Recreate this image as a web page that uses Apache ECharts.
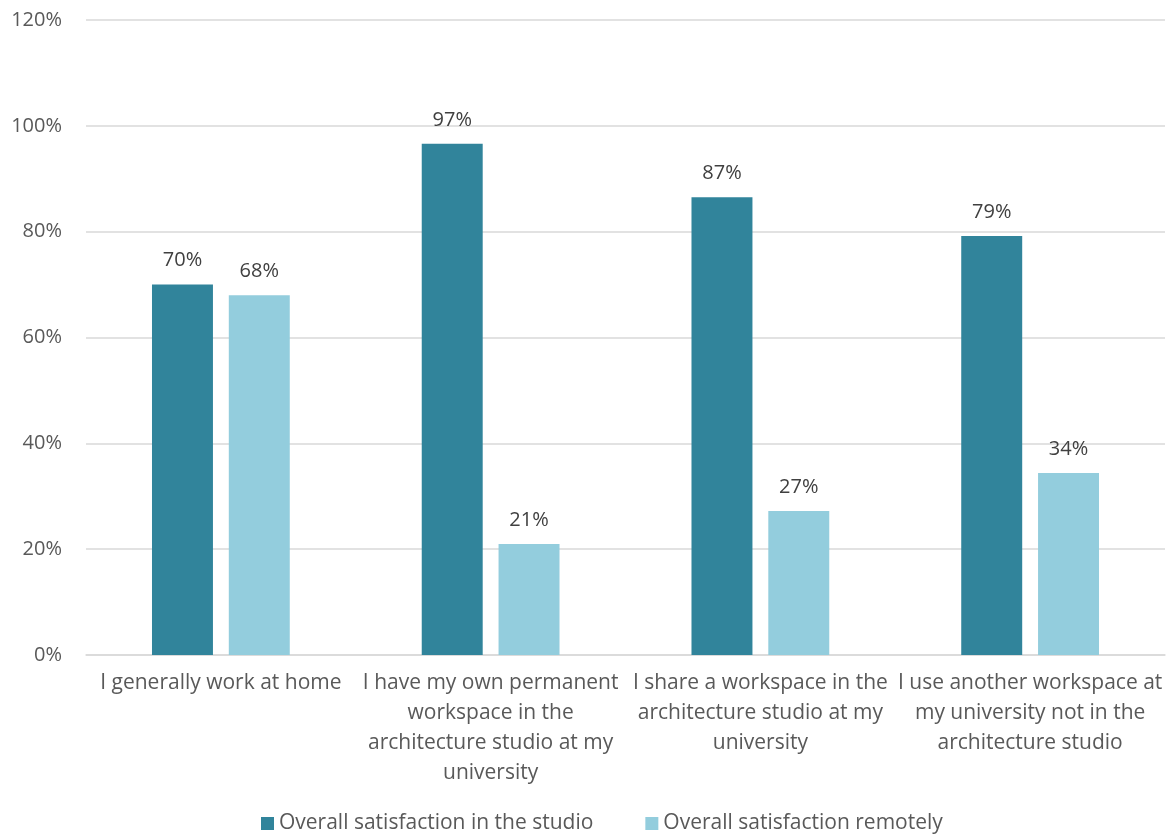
<!DOCTYPE html>
<html>
<head>
<meta charset="utf-8">
<script src="https://cdn.jsdelivr.net/npm/echarts@6/dist/echarts.min.js"></script>
<style>
  html, body { margin: 0; padding: 0; background: #fff; }
  #chart { width: 1171px; height: 839px; }
</style>
</head>
<body>
<div id="chart"></div>
<script>
// categories (x axis)
const categories = [
  "I generally work at home",
  "I have my own permanent\nworkspace in the\narchitecture studio at my\nuniversity",
  "I share a workspace in the\narchitecture studio at my\nuniversity",
  "I use another workspace at\nmy university not in the\narchitecture studio"
];
// values in percent
const studioValues = [70.0, 96.6, 86.5, 79.2];
const remoteValues = [68.0, 21.0, 27.2, 34.4];
const yTicks = [0, 20, 40, 60, 80, 100, 120];

const fontFam = "'Open Sans', 'Noto Sans', sans-serif";
const myChart = echarts.init(document.getElementById("chart"));

let option = {
  animation: false,
  textStyle: { fontFamily: fontFam },
  grid: {
    top: 20,
    left: 86,
    right: 6,
    bottom: 184
  },
  legend: {
    bottom: 0,
    left: 256,
    itemWidth: 13,
    itemHeight: 13,
    itemGap: 52,
    itemStyle: { borderWidth: 0 },
    icon: "rect",
    textStyle: { fontSize: 21, color: "#595959", fontFamily: fontFam }
  },
  xAxis: {
    type: "category",
    data: categories,
    axisLine: { lineStyle: { color: "#d9d9d9", width: 1.5 } },
    axisTick: { show: false },
    axisLabel: {
      interval: 0,
      color: "#595959",
      fontSize: 21,
      lineHeight: 30,
      margin: 13
    }
  },
  yAxis: {
    type: "value",
    min: yTicks[0],
    max: yTicks[yTicks.length - 1],
    interval: 20,
    axisLine: { show: false },
    axisTick: { show: false },
    splitLine: { lineStyle: { color: "#d9d9d9", width: 1.5 } },
    axisLabel: {
      color: "#595959",
      fontSize: 20,
      margin: 24,
      formatter: v => v + "%"
    }
  },
  series: [{
    name: "Overall satisfaction in the studio",
    type: "bar",
    data: studioValues,
    barWidth: "22.6%",
    barGap: "26%",
    itemStyle: { color: "#31849b" },
    label: {
      show: true,
      position: "top",
      distance: 14,
      color: "#404040",
      fontSize: 20,
      formatter: p => Math.round(p.value) + "%"
    }
  }, {
    name: "Overall satisfaction remotely",
    type: "bar",
    data: remoteValues,
    barWidth: "22.6%",
    itemStyle: { color: "#93cddd" },
    label: {
      show: true,
      position: "top",
      distance: 14,
      color: "#404040",
      fontSize: 20,
      formatter: p => Math.round(p.value) + "%"
    }
  }]
};
myChart.setOption(option);
</script>
</body>
</html>
